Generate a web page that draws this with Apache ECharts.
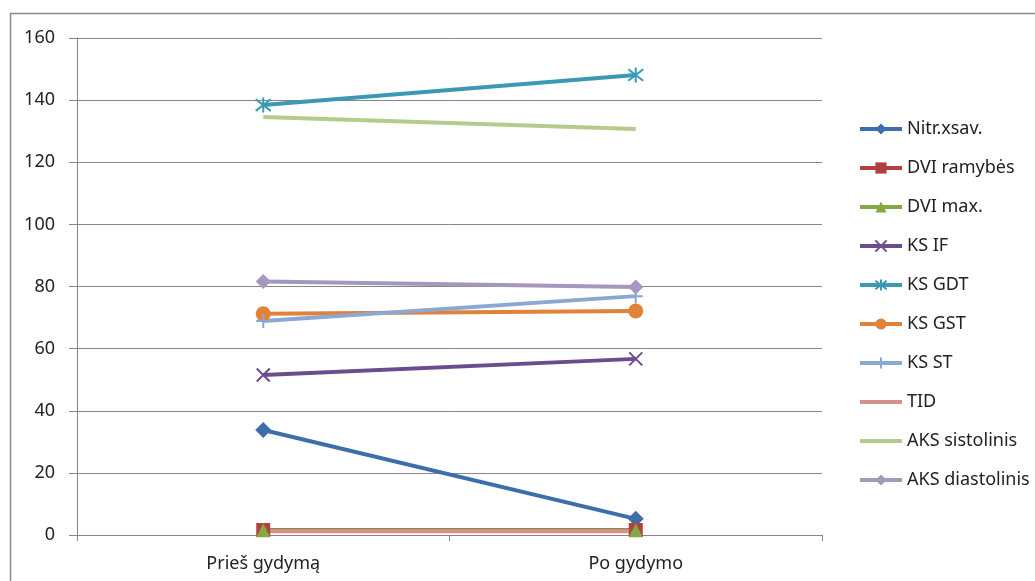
<!DOCTYPE html>
<html>
<head>
<meta charset="utf-8">
<script src="https://cdn.jsdelivr.net/npm/echarts@6/dist/echarts.min.js"></script>
<style>
html,body{margin:0;padding:0;background:#fff;}
#chart{width:1035px;height:581px;}
</style>
</head>
<body>
<div id="chart"></div>
<script>
// Categories (before / after treatment)
const categories = ['Prieš gydymą', 'Po gydymo'];
const yTicks = { min: 0, max: 160, interval: 20 };

// Series values
const nitrXsav = [33.8, 5.2];
const dviRamybes = [1.6, 1.6];
const dviMax = [1.5, 1.5];
const ksIF = [51.5, 56.7];
const ksGDT = [138.4, 148.1];
const ksGST = [71.2, 72.1];
const ksST = [68.9, 76.9];
const tid = [1.2, 1.2];
const aksSistolinis = [134.6, 130.7];
const aksDiastolinis = [81.6, 79.8];

const X_PATH = 'path://M0,0 L10,10 M10,0 L0,10';
const STAR_PATH = 'path://M0,0 L10,10 M10,0 L0,10 M5,-1.5 L5,11.5';
const PLUS_PATH = 'path://M5,0 L5,10 M0,5 L10,5';

const FONT = 'Noto Sans';

function lineSeries(name, data, color, symbol, size, stroked) {
  const s = {
    name: name,
    type: 'line',
    data: data,
    symbol: symbol || 'circle',
    symbolSize: size,
    showSymbol: !!symbol,
    lineStyle: { color: color, width: 4 },
    itemStyle: { color: color },
    emphasis: { disabled: true },
    z: 2
  };
  if (stroked) {
    s.itemStyle = { color: 'none', borderColor: color, borderWidth: 2 };
  }
  if (!symbol) {
    // plain line, no markers (also hidden in the legend icon)
    s.itemStyle = { color: color, opacity: 0 };
  }
  return s;
}

const chart = echarts.init(document.getElementById('chart'), null, { renderer: 'canvas' });
chart.setOption({
  animation: false,
  backgroundColor: '#fff',
  graphic: [{
    type: 'rect',
    shape: { x: 10.5, y: 13.5, width: 1100, height: 700 },
    style: { fill: 'none', stroke: '#8a8a8a', lineWidth: 1.5 },
    silent: true,
    z: -1
  }],
  grid: { left: 77, right: 213, top: 38, bottom: 46 },
  legend: {
    orient: 'vertical',
    left: 853,
    top: 115,
    itemWidth: 42,
    itemHeight: 14,
    itemGap: 21,
    lineStyle: { width: 4 },
    textStyle: { fontFamily: FONT, fontSize: 18, lineHeight: 18, color: '#222' },
    data: ['Nitr.xsav.', 'DVI ramybės', 'DVI max.', 'KS IF', 'KS GDT', 'KS GST', 'KS ST', 'TID', 'AKS sistolinis', 'AKS diastolinis']
  },
  xAxis: {
    type: 'category',
    data: categories,
    boundaryGap: true,
    axisLine: { lineStyle: { color: '#868686', width: 1 } },
    axisTick: { show: true, length: 6, lineStyle: { color: '#868686' } },
    axisLabel: { fontFamily: FONT, fontSize: 18, color: '#222', margin: 20 }
  },
  yAxis: {
    type: 'value',
    min: yTicks.min,
    max: yTicks.max,
    interval: yTicks.interval,
    axisLine: { show: true, lineStyle: { color: '#868686', width: 1 } },
    axisTick: { show: true, length: 8, lineStyle: { color: '#868686' } },
    axisLabel: { fontFamily: FONT, fontSize: 18, color: '#222', margin: 22 },
    splitLine: { lineStyle: { color: '#868686', width: 1 } }
  },
  series: [
    lineSeries('Nitr.xsav.', nitrXsav, '#3E6EAA', 'diamond', 16),
    lineSeries('DVI ramybės', dviRamybes, '#B0413E', 'rect', 14),
    lineSeries('DVI max.', dviMax, '#86A844', 'triangle', 14),
    lineSeries('KS IF', ksIF, '#6B4C8E', X_PATH, 13, true),
    lineSeries('KS GDT', ksGDT, '#3A9AB3', STAR_PATH, 15, true),
    lineSeries('KS GST', ksGST, '#E0823A', 'circle', 15),
    lineSeries('KS ST', ksST, '#8BA8D3', PLUS_PATH, 14, true),
    lineSeries('TID', tid, '#D6918F', null, 0),
    lineSeries('AKS sistolinis', aksSistolinis, '#B5CB8E', null, 0),
    lineSeries('AKS diastolinis', aksDiastolinis, '#A597BF', 'diamond', 15)
  ]
});
</script>
</body>
</html>
